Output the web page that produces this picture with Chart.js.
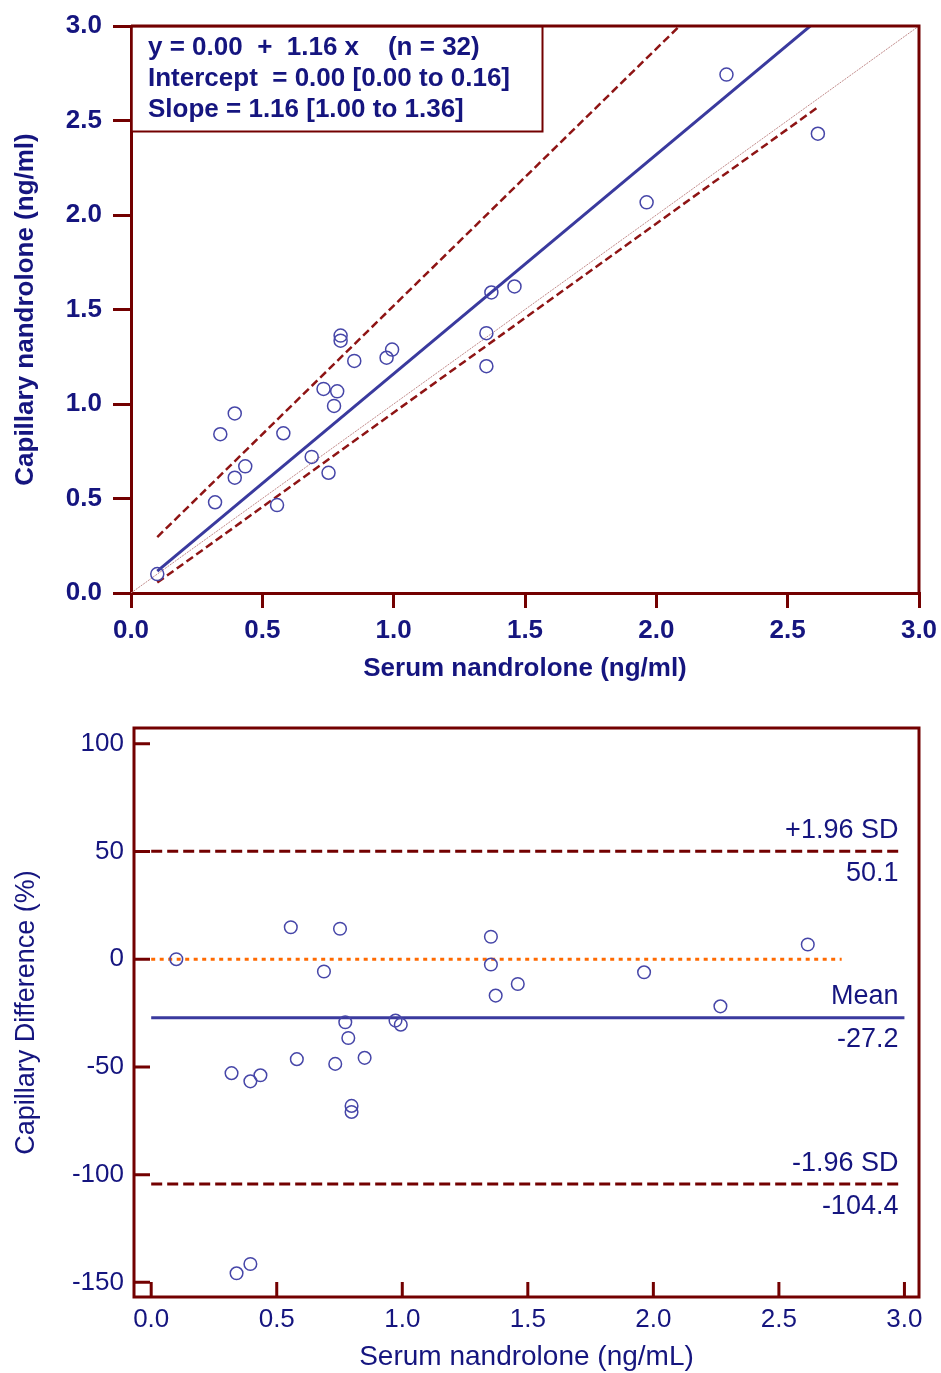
<!DOCTYPE html>
<html>
<head>
<meta charset="utf-8">
<script src="https://cdn.jsdelivr.net/npm/chart.js@4.4.1/dist/chart.umd.min.js"></script>
<style>
  html, body { margin: 0; padding: 0; background: #fff; }
  #wrap { position: relative; width: 941px; height: 1373px; }
  #topChart { position: absolute; left: 0; top: 0; }
  #bottomChart { position: absolute; left: 0; top: 690px; }
</style>
</head>
<body>
<div id="wrap">
  <canvas id="topChart" width="941" height="690"></canvas>
  <canvas id="bottomChart" width="941" height="683"></canvas>
</div>
<script>
// paired samples (ng/ml)
const serum     = [0.10, 0.32, 0.34, 0.395, 0.395, 0.435, 0.556, 0.58, 0.688, 0.733, 0.752, 0.773, 0.785, 0.798, 0.798, 0.85, 0.973, 0.994, 1.353, 1.353, 1.372, 1.46, 1.963, 2.267, 2.615];
const capillary = [0.10, 0.48, 0.84, 0.95, 0.61, 0.67, 0.465, 0.845, 0.72, 1.08, 0.636, 0.99, 1.067, 1.362, 1.335, 1.228, 1.245, 1.288, 1.20, 1.375, 1.59, 1.622, 2.067, 2.743, 2.43];
// percentage difference for the same samples
const diffPct   = [0, -52.9, -145.8, -141.5, -56.7, -53.9, 14.8, -46.4, -5.7, -48.6, 14.1, -29.3, -36.6, -70.9, -68.1, -45.8, -28.5, -30.4, 10.4, -2.5, -16.9, -11.5, -6.1, -21.9, 6.8];

// regression fit and its band
const intercept = 0.00, slope = 1.16, nPairs = 32;
const interceptCI = [0.00, 0.16], slopeCI = [1.00, 1.36];
const fitRange = [0.10, 2.62];
const upperBand = [[0.10, 0.296], [2.62, 3.723]];
const lowerBand = [[0.10, 0.055], [2.62, 2.575]];
const identity = [[0, 0], [3, 3]];

// agreement limits
const meanDiff = -27.2, upperLoA = 50.1, lowerLoA = -104.4;
const zeroLineEnd = 2.75;

const xTicks = [0, 0.5, 1.0, 1.5, 2.0, 2.5, 3.0];
const yTicksTop = [0, 0.5, 1.0, 1.5, 2.0, 2.5, 3.0];
const yTicksBottom = [-150, -100, -50, 0, 50, 100];

const darkRed = '#730000';
const dashRed = '#8e1414';
const navy = '#15157f';
const lineBlue = '#3a3a9e';
const pointBlue = '#4646a8';
const family = '"Liberation Sans", Arial, sans-serif';

Chart.defaults.devicePixelRatio = 1;
Chart.defaults.animation = false;

const pts = (xs, ys) => xs.map((x, i) => ({ x: x, y: ys[i] }));
const pairs = arr => arr.map(p => ({ x: p[0], y: p[1] }));

const boldFont = { family: family, size: 26, weight: 'bold' };

// frame on top/right plus the fit summary box
const topFrame = {
  id: 'topFrame',
  afterDraw(chart) {
    const { ctx, chartArea: a } = chart;
    ctx.save();
    ctx.strokeStyle = darkRed;
    ctx.lineWidth = 3;
    ctx.beginPath();
    ctx.moveTo(a.left, a.top);
    ctx.lineTo(a.right, a.top);
    ctx.lineTo(a.right, a.bottom);
    ctx.stroke();

    ctx.fillStyle = '#fff';
    ctx.fillRect(a.left + 1.5, a.top + 1.5, 410, 104);
    ctx.lineWidth = 2;
    ctx.strokeRect(a.left + 0.5, a.top + 0.5, 411, 105);

    ctx.fillStyle = navy;
    ctx.font = 'bold 26px ' + family;
    ctx.textBaseline = 'middle';
    ctx.textAlign = 'left';
    const lines = [
      'y = ' + intercept.toFixed(2) + '  +  ' + slope.toFixed(2) + ' x    (n = ' + nPairs + ')',
      'Intercept  = ' + intercept.toFixed(2) + ' [' + interceptCI[0].toFixed(2) + ' to ' + interceptCI[1].toFixed(2) + ']',
      'Slope = ' + slope.toFixed(2) + ' [' + slopeCI[0].toFixed(2) + ' to ' + slopeCI[1].toFixed(2) + ']'
    ];
    lines.forEach((t, i) => ctx.fillText(t, 148, 48 + i * 31));
    ctx.restore();
  }
};

new Chart(document.getElementById('topChart'), {
  type: 'scatter',
  data: {
    datasets: [
      {
        data: pts(serum, capillary),
        pointStyle: 'circle', pointRadius: 6.5, pointHoverRadius: 6.5,
        borderColor: pointBlue, backgroundColor: 'rgba(0,0,0,0)', borderWidth: 1.5
      },
      {
        data: fitRange.map(x => ({ x: x, y: intercept + slope * x })),
        showLine: true, pointRadius: 0, borderColor: lineBlue, borderWidth: 3, clip: 0
      },
      {
        data: pairs(upperBand),
        showLine: true, pointRadius: 0, borderColor: dashRed, borderWidth: 2.5, borderDash: [8, 4], clip: 0
      },
      {
        data: pairs(lowerBand),
        showLine: true, pointRadius: 0, borderColor: dashRed, borderWidth: 2.5, borderDash: [8, 4], clip: 0
      },
      {
        data: pairs(identity),
        showLine: true, pointRadius: 0, borderColor: '#c08a8a', borderWidth: 1, borderDash: [2, 1], clip: 0
      }
    ]
  },
  options: {
    responsive: false,
    layout: { padding: { top: 26, right: 22, left: 0, bottom: 0 } },
    plugins: { legend: { display: false }, tooltip: { enabled: false } },
    scales: {
      x: {
        type: 'linear', min: 0, max: 3,
        afterBuildTicks: s => { s.ticks = xTicks.map(v => ({ value: v })); },
        afterFit: s => { s.height = 97; s.paddingLeft = 0; s.paddingRight = 0; },
        ticks: {
          color: navy, padding: 7, font: boldFont,
          callback: v => Number(v).toFixed(1)
        },
        grid: { drawOnChartArea: false, drawTicks: true, tickLength: 15, color: darkRed, lineWidth: 3 },
        border: { display: true, color: darkRed, width: 3 },
        title: {
          display: true, text: 'Serum nandrolone (ng/ml)', color: navy, font: boldFont,
          padding: { top: 0, bottom: 6 }
        }
      },
      y: {
        type: 'linear', min: 0, max: 3,
        afterBuildTicks: s => { s.ticks = yTicksTop.map(v => ({ value: v })); },
        afterFit: s => { s.width = 131; s.paddingTop = 0; s.paddingBottom = 0; },
        ticks: {
          color: navy, padding: 11, font: boldFont,
          callback: v => Number(v).toFixed(1)
        },
        grid: { drawOnChartArea: false, drawTicks: true, tickLength: 18, color: darkRed, lineWidth: 3 },
        border: { display: true, color: darkRed, width: 3 },
        title: {
          display: true, text: 'Capillary nandrolone (ng/ml)', color: navy, font: boldFont,
          padding: { top: 10, bottom: 0 }
        }
      }
    }
  },
  plugins: [topFrame]
});

// boxed frame with inward ticks and the limit captions
const bottomFrame = {
  id: 'bottomFrame',
  afterDraw(chart) {
    const { ctx, chartArea: a, scales } = chart;
    const xs = scales.x, ys = scales.y;
    ctx.save();
    ctx.strokeStyle = darkRed;
    ctx.lineWidth = 3;
    ctx.strokeRect(a.left, a.top, a.right - a.left, a.bottom - a.top);
    ctx.beginPath();
    yTicksBottom.forEach(v => {
      const py = ys.getPixelForValue(v);
      ctx.moveTo(a.left, py);
      ctx.lineTo(a.left + 16, py);
    });
    xTicks.forEach(v => {
      const px = xs.getPixelForValue(v);
      ctx.moveTo(px, a.bottom);
      ctx.lineTo(px, a.bottom - 15);
    });
    ctx.stroke();

    ctx.fillStyle = navy;
    ctx.font = '27px ' + family;
    ctx.textAlign = 'right';
    ctx.textBaseline = 'middle';
    const rx = xs.getPixelForValue(3.0) - 6;
    [
      ['+1.96 SD', upperLoA],
      ['Mean', meanDiff],
      ['-1.96 SD', lowerLoA]
    ].forEach(([name, v]) => {
      const py = ys.getPixelForValue(v);
      ctx.fillText(name, rx, py - 21);
      ctx.fillText(v.toFixed(1), rx, py + 22);
    });
    ctx.restore();
  }
};

const hLine = (y, x0, x1) => [{ x: x0, y: y }, { x: x1, y: y }];

new Chart(document.getElementById('bottomChart'), {
  type: 'scatter',
  data: {
    datasets: [
      {
        data: pts(serum, diffPct),
        pointStyle: 'circle', pointRadius: 6.3, pointHoverRadius: 6.3,
        borderColor: pointBlue, backgroundColor: 'rgba(0,0,0,0)', borderWidth: 1.5
      },
      {
        data: hLine(meanDiff, 0, 3.0),
        showLine: true, pointRadius: 0, borderColor: lineBlue, borderWidth: 3
      },
      {
        data: hLine(upperLoA, 0, 2.98),
        showLine: true, pointRadius: 0, borderColor: darkRed, borderWidth: 3, borderDash: [11, 5]
      },
      {
        data: hLine(lowerLoA, 0, 2.98),
        showLine: true, pointRadius: 0, borderColor: darkRed, borderWidth: 3, borderDash: [11, 5]
      },
      {
        data: hLine(0, 0, zeroLineEnd),
        showLine: true, pointRadius: 0, borderColor: '#ff6a00', borderWidth: 3, borderDash: [4, 4.5]
      }
    ]
  },
  options: {
    responsive: false,
    layout: { padding: { top: 38, right: 22, left: 0, bottom: 0 } },
    plugins: { legend: { display: false }, tooltip: { enabled: false } },
    scales: {
      x: {
        type: 'linear', min: -0.0685, max: 3.058,
        afterBuildTicks: s => { s.ticks = xTicks.map(v => ({ value: v })); },
        afterFit: s => { s.height = 76; },
        ticks: {
          color: navy, padding: 7,
          font: { family: family, size: 26 },
          callback: v => Number(v).toFixed(1)
        },
        grid: { display: false, drawTicks: false },
        border: { display: false },
        title: {
          display: true, text: 'Serum nandrolone (ng/mL)', color: navy,
          font: { family: family, size: 28, lineHeight: 1.1 },
          padding: { top: 0, bottom: 0 }
        }
      },
      y: {
        type: 'linear', min: -156.8, max: 107.3,
        afterBuildTicks: s => { s.ticks = yTicksBottom.map(v => ({ value: v })); },
        afterFit: s => { s.width = 134; },
        ticks: {
          color: navy, padding: 10,
          font: { family: family, size: 26 },
          callback: v => String(v)
        },
        grid: { display: false, drawTicks: false },
        border: { display: false },
        title: {
          display: true, text: 'Capillary Difference (%)', color: navy,
          font: { family: family, size: 27 },
          padding: { top: 10, bottom: 0 }
        }
      }
    }
  },
  plugins: [bottomFrame]
});
</script>
</body>
</html>
